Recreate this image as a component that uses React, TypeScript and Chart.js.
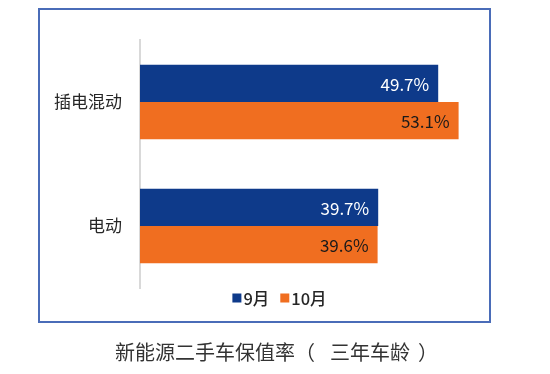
import React, { useEffect, useRef } from "react";
import { Chart, registerables } from "chart.js";

Chart.register(...registerables);

const categories = ["插电混动", "电动"];
const seriesNames = ["9月", "10月"];
const sep = [49.7, 39.7];
const oct = [53.1, 39.6];
const colors = ["#0e3a8a", "#f06e20"];
const labelColors = ["#ffffff", "#1a1a1a"];
const FONT = "'Noto Sans CJK SC', 'Microsoft YaHei', sans-serif";

const valueLabels = {
  id: "valueLabels",
  afterDatasetsDraw(chart: any) {
    const ctx = chart.ctx;
    ctx.save();
    ctx.font = `17px ${FONT}`;
    ctx.textAlign = "right";
    ctx.textBaseline = "middle";
    chart.data.datasets.forEach((ds: any, di: number) => {
      const meta = chart.getDatasetMeta(di);
      meta.data.forEach((bar: any, i: number) => {
        ctx.fillStyle = labelColors[di];
        ctx.fillText(ds.data[i].toFixed(1) + "%", bar.x - 9, bar.y + 1);
      });
    });
    ctx.restore();
  },
};

const customLegend = {
  id: "customLegend",
  afterDraw(chart: any) {
    const ctx = chart.ctx;
    ctx.save();
    ctx.font = `500 16.5px ${FONT}`;
    ctx.textBaseline = "middle";
    const box = 9;
    const gap = 2;
    const itemGap = 11;
    const widths = seriesNames.map((n) => box + gap + ctx.measureText(n).width);
    const total = widths.reduce((a, b) => a + b, 0) + itemGap * (seriesNames.length - 1);
    let x = 279.5 - total / 2;
    const y = chart.chartArea.bottom + 10;
    seriesNames.forEach((n, i) => {
      ctx.fillStyle = colors[i];
      ctx.fillRect(x, y - box / 2, box, box);
      ctx.fillStyle = "#262626";
      ctx.textAlign = "left";
      ctx.fillText(n, x + box + gap, y + 1);
      x += widths[i] + itemGap;
    });
    ctx.restore();
  },
};

export default function App() {
  const ref = useRef<HTMLCanvasElement>(null);
  useEffect(() => {
    const chart = new Chart(ref.current!, {
      type: "bar",
      data: {
        labels: categories,
        datasets: [
          { label: seriesNames[0], data: sep, backgroundColor: colors[0], barPercentage: 1, categoryPercentage: 0.6 },
          { label: seriesNames[1], data: oct, backgroundColor: colors[1], barPercentage: 1, categoryPercentage: 0.6 },
        ],
      },
      options: {
        indexAxis: "y",
        animation: false,
        responsive: false,
        maintainAspectRatio: false,
        layout: { padding: { left: 0, top: 40, right: 80, bottom: 86 } },
        plugins: { legend: { display: false }, tooltip: { enabled: false } },
        scales: {
          x: { display: false, min: 0, max: 55 },
          y: {
            afterFit: (s: any) => {
              s.width = 140;
            },
            grid: { display: false, drawTicks: false },
            border: { display: true, color: "#d9d9d9", width: 2 },
            ticks: { padding: 18, color: "#262626", font: { family: FONT, size: 17 } },
          },
        },
      },
      plugins: [valueLabels, customLegend],
    });
    return () => chart.destroy();
  }, []);

  return (
    <div style={{ position: "fixed", left: 0, top: 0, width: 550, height: 374, background: "#fff", overflow: "hidden" }}>
      <div
        style={{
          position: "absolute",
          left: 38,
          top: 8,
          width: 449,
          height: 311,
          border: "2px solid #4a6cb8",
        }}
      />
      <canvas ref={ref} width={550} height={374} style={{ position: "absolute", left: 0, top: 0 }} />
      <div
        style={{
          position: "absolute",
          left: 115,
          top: 340,
          fontFamily: FONT,
          fontSize: 20,
          color: "#333",
          lineHeight: "24px",
          whiteSpace: "pre",
        }}
      >
        新能源二手车保值率（<span style={{ display: "inline-block", width: 15 }} />三年车龄
        <span style={{ display: "inline-block", width: 8 }} />）
      </div>
    </div>
  );
}
